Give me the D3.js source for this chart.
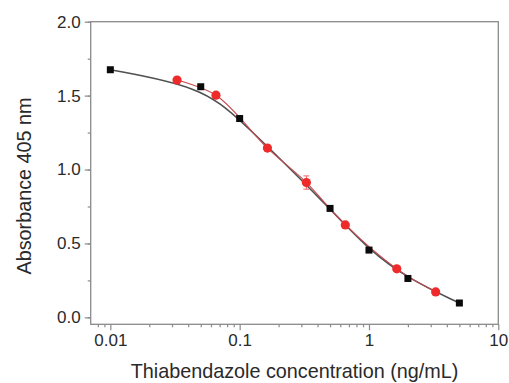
<!DOCTYPE html>
<html><head><meta charset="utf-8">
<script src="https://cdn.jsdelivr.net/npm/d3@7"></script>
<style>body{margin:0;background:#fff}svg{display:block}</style>
</head><body>
<svg id="c" width="509" height="383"></svg>
<script>
const blackX = [0.01, 0.05, 0.1, 0.5, 1, 2, 5];
const blackY = [1.675, 1.56, 1.345, 0.737, 0.455, 0.263, 0.097];
const redX = [0.0328, 0.0656, 0.164, 0.328, 0.656, 1.64, 3.28];
const redY = [1.605, 1.503, 1.145, 0.912, 0.625, 0.328, 0.172];
const redErr = [0.01, 0.012, 0.01, 0.045, 0.01, 0.01, 0.01];
const yTicks = [0.0, 0.5, 1.0, 1.5, 2.0];
const xTicks = [0.01, 0.1, 1, 10];
const xTickLabels = ["0.01", "0.1", "1", "10"];
const xTitle = "Thiabendazole concentration (ng/mL)";
const yTitle = "Absorbance 405 nm";

const L = 90.7, R = 498.3, T = 21.7, B = 324.3;
const svg = d3.select("#c");
const x = d3.scaleLog().domain([0.00705, 10]).range([L, R]);
const y = d3.scaleLinear().domain([-0.047, 2.0]).range([B, T]);
const axisCol = "#8a8a8a", textCol = "#2a2a2a";
const font = "Liberation Sans, Arial, sans-serif";

// frame
svg.append("rect").attr("x", L).attr("y", T).attr("width", R - L).attr("height", B - T)
  .attr("fill", "none").attr("stroke", axisCol).attr("stroke-width", 1.3);

// y axis
const yMinor = d3.range(0, 2.01, 0.25);
const ya = svg.append("g").attr("transform", `translate(${L},0)`)
  .call(d3.axisLeft(y).tickValues(yMinor).tickSize(3).tickFormat(""));
ya.select(".domain").remove();
ya.selectAll("line").attr("stroke", axisCol).attr("stroke-width", 1.2);
const ya2 = svg.append("g").attr("transform", `translate(${L},0)`)
  .call(d3.axisLeft(y).tickValues(yTicks).tickSize(6).tickPadding(4).tickFormat(d3.format(".1f")));
ya2.select(".domain").remove();
ya2.selectAll("line").attr("stroke", axisCol).attr("stroke-width", 1.2);
ya2.selectAll("text").attr("font-family", font).attr("font-size", 17).attr("fill", textCol);

// x axis
const xMinor = [];
for (let d = 0.001; d < 10; d *= 10) for (let k = 2; k <= 9; k++) { const v = +(d * k).toPrecision(3); if (v >= 0.00705 && v < 10) xMinor.push(v); }
const xa = svg.append("g").attr("transform", `translate(0,${B})`)
  .call(d3.axisBottom(x).tickValues(xMinor).tickSize(3).tickFormat(""));
xa.select(".domain").remove();
xa.selectAll("line").attr("stroke", axisCol).attr("stroke-width", 1.2);
const xa2 = svg.append("g").attr("transform", `translate(0,${B})`)
  .call(d3.axisBottom(x).tickValues(xTicks).tickSize(6).tickPadding(4).tickFormat((d, i) => xTickLabels[i]));
xa2.select(".domain").remove();
xa2.selectAll("line").attr("stroke", axisCol).attr("stroke-width", 1.2);
xa2.selectAll("text").attr("font-family", font).attr("font-size", 17).attr("fill", textCol);

// titles
svg.append("text").attr("x", 294.5).attr("y", 377.5).attr("text-anchor", "middle")
  .attr("font-family", font).attr("font-size", 19.8).attr("fill", textCol).text(xTitle);
svg.append("text").attr("transform", `translate(31,186) rotate(-90)`).attr("text-anchor", "middle")
  .attr("font-family", font).attr("font-size", 19.8).attr("fill", textCol).text(yTitle);

const black = blackX.map((v, i) => ({x: v, y: blackY[i]}));
const red = redX.map((v, i) => ({x: v, y: redY[i], e: redErr[i]}));

const line = d3.line().x(d => x(d.x)).y(d => y(d.y));
svg.append("path").datum(black).attr("d", line.curve(d3.curveBasis)).attr("fill", "none")
  .attr("stroke", "#505050").attr("stroke-width", 1.6);
svg.append("path").datum(red).attr("d", line.curve(d3.curveCatmullRom)).attr("fill", "none")
  .attr("stroke", "#c8484e").attr("stroke-width", 1.1);

// error bars
const eb = svg.append("g").attr("stroke", "#e86a6a").attr("stroke-width", 1);
red.forEach(d => {
  eb.append("line").attr("x1", x(d.x)).attr("x2", x(d.x)).attr("y1", y(d.y - d.e)).attr("y2", y(d.y + d.e));
  [d.y - d.e, d.y + d.e].forEach(v => eb.append("line").attr("x1", x(d.x) - 3).attr("x2", x(d.x) + 3).attr("y1", y(v)).attr("y2", y(v)));
});

svg.append("g").selectAll("rect").data(black).join("rect")
  .attr("x", d => x(d.x) - 3.5).attr("y", d => y(d.y) - 3.5).attr("width", 7).attr("height", 7).attr("fill", "#0a0a0a");
svg.append("g").selectAll("circle").data(red).join("circle")
  .attr("cx", d => x(d.x)).attr("cy", d => y(d.y)).attr("r", 4.6).attr("fill", "#ee2a2a");
</script>
</body></html>
